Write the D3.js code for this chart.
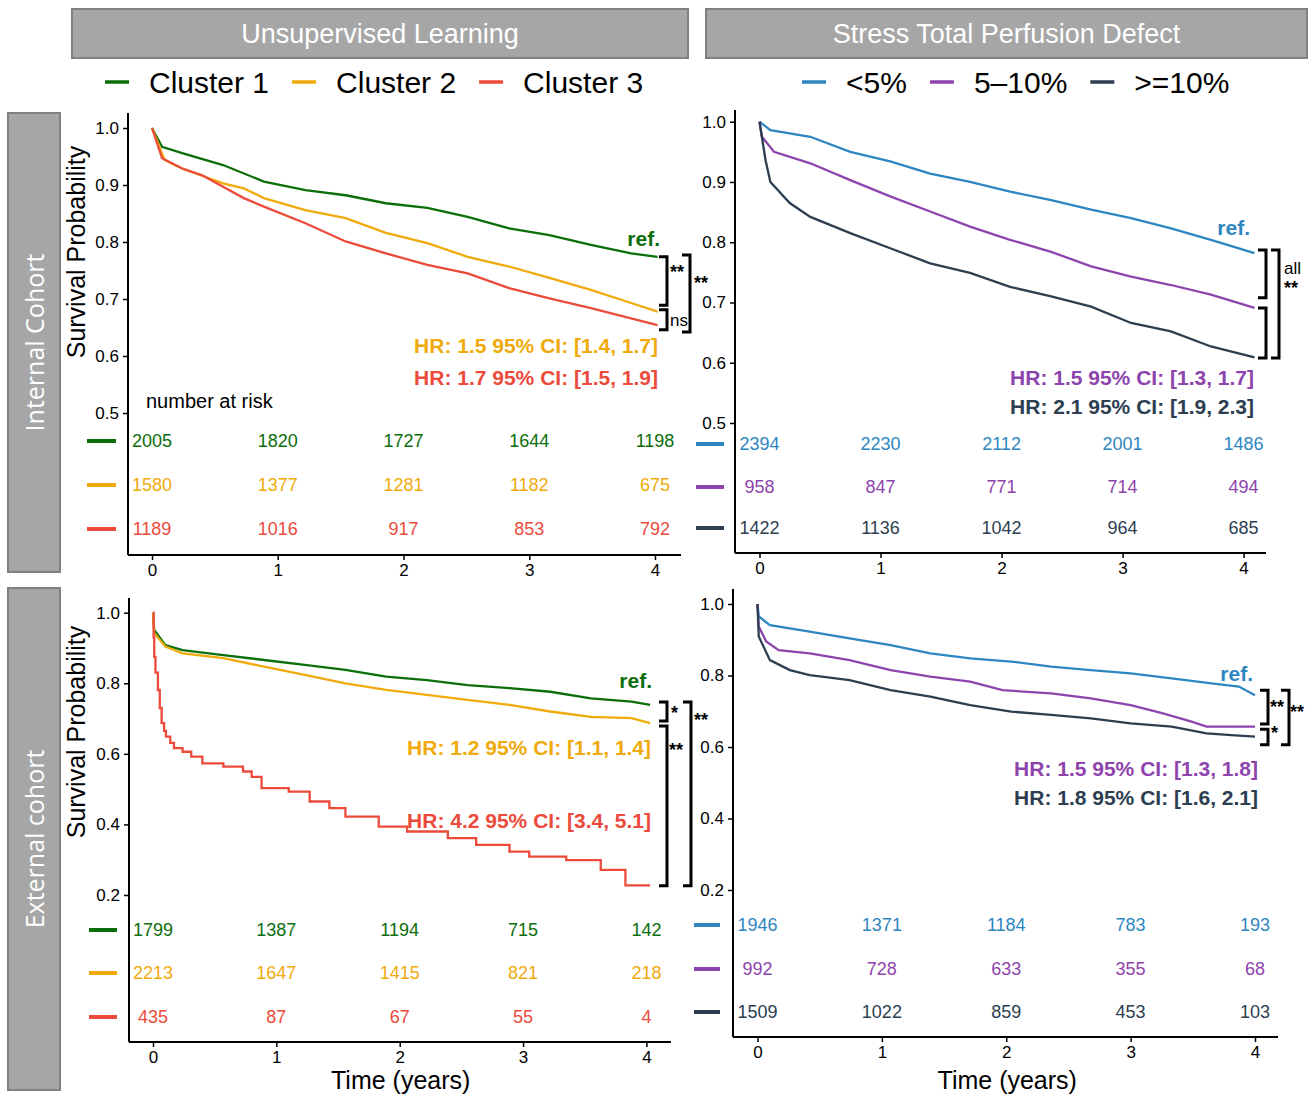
<!DOCTYPE html>
<html>
<head>
<meta charset="utf-8">
<script src="https://cdn.jsdelivr.net/npm/d3@7"></script>
<style>
body { margin: 0; background: #fff; }
text { font-family: "Liberation Sans", Arial, sans-serif; }
</style>
</head>
<body>
<script>
// colours
var clusterCols = ["#0b6e0b", "#f0aa0c", "#ec4b3c"];
var tpdCols = ["#2e86c1", "#8e44ad", "#2c3e50"];
var clusterNames = ["Cluster 1", "Cluster 2", "Cluster 3"];
var tpdNames = ["<5%", "5\u201310%", ">=10%"];

// survival curves, [years, probability]
var intC1 = [[0,1],[0.08,0.967],[0.24,0.956],[0.565,0.935],[0.89,0.906],[1.22,0.891],[1.54,0.882],[1.86,0.868],[2.19,0.86],[2.51,0.844],[2.84,0.824],[3.16,0.812],[3.49,0.795],[3.81,0.78],[4.02,0.774]];
var intC2 = [[0,1],[0.1,0.944],[0.24,0.929],[0.565,0.903],[0.73,0.894],[0.89,0.877],[1.22,0.856],[1.54,0.842],[1.86,0.816],[2.19,0.798],[2.51,0.774],[2.84,0.757],[3.16,0.737],[3.49,0.716],[3.81,0.693],[4.02,0.678]];
var intC3 = [[0,1],[0.08,0.947],[0.24,0.929],[0.4,0.917],[0.565,0.897],[0.73,0.877],[0.89,0.862],[1.22,0.833],[1.54,0.801],[1.86,0.78],[2.19,0.76],[2.51,0.745],[2.84,0.719],[3.16,0.701],[3.49,0.684],[3.81,0.666],[4.02,0.654]];

var intT1 = [[0,1],[0.09,0.986],[0.42,0.975],[0.75,0.95],[1.08,0.934],[1.41,0.914],[1.74,0.9],[2.07,0.884],[2.41,0.87],[2.74,0.854],[3.07,0.84],[3.4,0.823],[3.73,0.804],[4.09,0.782]];
var intT2 = [[0,1],[0.02,0.975],[0.12,0.95],[0.42,0.931],[0.75,0.903],[1.08,0.876],[1.41,0.851],[1.74,0.826],[2.07,0.804],[2.41,0.784],[2.74,0.76],[3.07,0.743],[3.4,0.729],[3.73,0.713],[4.09,0.691]];
var intT3 = [[0,1],[0.05,0.936],[0.09,0.9],[0.25,0.865],[0.42,0.842],[0.75,0.815],[1.08,0.79],[1.41,0.765],[1.74,0.749],[2.07,0.726],[2.41,0.71],[2.74,0.693],[3.07,0.666],[3.4,0.652],[3.73,0.627],[4.09,0.609]];

var extC1 = [[0,1],[0.01,0.951],[0.1,0.908],[0.24,0.894],[0.57,0.88],[0.9,0.866],[1.23,0.852],[1.56,0.838],[1.89,0.819],[2.22,0.809],[2.55,0.795],[2.89,0.786],[3.22,0.776],[3.55,0.757],[3.88,0.748],[4.03,0.739]];
var extC2 = [[0,1],[0.01,0.942],[0.1,0.904],[0.24,0.885],[0.57,0.871],[0.9,0.847],[1.23,0.824],[1.56,0.8],[1.89,0.781],[2.22,0.767],[2.55,0.753],[2.89,0.739],[3.22,0.72],[3.55,0.705],[3.88,0.701],[4.03,0.687]];
var extC3 = [[0,1],[0.005,0.93],[0.01,0.875],[0.02,0.83],[0.04,0.781],[0.055,0.73],[0.07,0.687],[0.09,0.665],[0.105,0.649],[0.14,0.631],[0.17,0.616],[0.24,0.606],[0.31,0.592],[0.4,0.573],[0.57,0.564],[0.73,0.55],[0.8,0.535],[0.88,0.503],[1.1,0.493],[1.27,0.465],[1.43,0.446],[1.56,0.422],[1.83,0.394],[2.06,0.38],[2.39,0.361],[2.62,0.342],[2.89,0.323],[3.05,0.309],[3.35,0.299],[3.63,0.271],[3.83,0.227],[4.03,0.227]];

var extT1 = [[0,1],[0.01,0.965],[0.1,0.941],[0.42,0.923],[0.74,0.904],[1.07,0.885],[1.39,0.862],[1.71,0.848],[2.04,0.839],[2.36,0.825],[2.68,0.815],[3,0.806],[3.33,0.792],[3.65,0.778],[3.87,0.769],[4,0.745]];
var extT2 = [[0,1],[0.01,0.937],[0.07,0.895],[0.17,0.871],[0.42,0.862],[0.74,0.843],[1.07,0.815],[1.39,0.797],[1.71,0.783],[1.97,0.759],[2.36,0.75],[2.68,0.736],[3,0.717],[3.26,0.694],[3.49,0.671],[3.61,0.657],[4,0.657]];
var extT3 = [[0,1],[0.01,0.909],[0.1,0.843],[0.26,0.815],[0.42,0.801],[0.74,0.787],[1.07,0.759],[1.39,0.741],[1.71,0.717],[2.04,0.699],[2.36,0.69],[2.68,0.68],[3,0.666],[3.33,0.657],[3.61,0.638],[3.81,0.633],[4,0.629]];

// number at risk at years 0..4
var riskYears = [0, 1, 2, 3, 4];
var intClusterRisk = [[2005,1820,1727,1644,1198],[1580,1377,1281,1182,675],[1189,1016,917,853,792]];
var intTpdRisk = [[2394,2230,2112,2001,1486],[958,847,771,714,494],[1422,1136,1042,964,685]];
var extClusterRisk = [[1799,1387,1194,715,142],[2213,1647,1415,821,218],[435,87,67,55,4]];
var extTpdRisk = [[1946,1371,1184,783,193],[992,728,633,355,68],[1509,1022,859,453,103]];

var hrIntCluster = ["HR: 1.5 95% CI: [1.4, 1.7]", "HR: 1.7 95% CI: [1.5, 1.9]"];
var hrIntTpd = ["HR: 1.5 95% CI: [1.3, 1.7]", "HR: 2.1 95% CI: [1.9, 2.3]"];
var hrExtCluster = ["HR: 1.2 95% CI: [1.1, 1.4]", "HR: 4.2 95% CI: [3.4, 5.1]"];
var hrExtTpd = ["HR: 1.5 95% CI: [1.3, 1.8]", "HR: 1.8 95% CI: [1.6, 2.1]"];

var ticksInt = [0.5, 0.6, 0.7, 0.8, 0.9, 1.0];
var ticksExt = [0.2, 0.4, 0.6, 0.8, 1.0];

var svg = d3.select("body").append("svg")
    .attr("width", 1313)
    .attr("height", 1094);

// facet header strips
function strip(x, y, w, h, label, vertical) {
    svg.append("rect")
        .attr("x", x).attr("y", y).attr("width", w).attr("height", h)
        .attr("fill", "#a6a6a6").attr("stroke", "#808080").attr("stroke-width", 2);
    var t = svg.append("text")
        .attr("text-anchor", "middle")
        .attr("dominant-baseline", "central")
        .attr("fill", "white")
        .text(label);
    if (vertical) {
        t.attr("transform", "translate(" + (x + w / 2) + "," + (y + h / 2) + ") rotate(-90)")
         .style("font-family", "'Open Sans', sans-serif").attr("font-size", "25px");
    } else {
        t.attr("x", x + w / 2).attr("y", y + h / 2).attr("font-size", "27px");
    }
}
strip(72, 9, 616, 49, "Unsupervised Learning", false);
strip(706, 9, 601, 49, "Stress Total Perfusion Defect", false);
strip(8, 113, 52, 459, "Internal Cohort", true);
strip(8, 588, 52, 502, "External cohort", true);

// top legends
function legend(x0, y, names, cols) {
    var x = x0;
    names.forEach(function(n, i) {
        svg.append("line")
            .attr("x1", x).attr("x2", x + 24).attr("y1", y).attr("y2", y)
            .attr("stroke", cols[i]).attr("stroke-width", 3.5);
        var t = svg.append("text")
            .attr("x", x + 44).attr("y", y)
            .attr("dominant-baseline", "central")
            .attr("font-size", "30px")
            .text(n);
        x = x + 44 + t.node().getComputedTextLength() + 23;
    });
}
legend(105, 82, clusterNames, clusterCols);
legend(802, 82, tpdNames, tpdCols);

var panels = [
    { series: [intC1, intC2, intC3], cols: clusterCols, risk: intClusterRisk, hr: hrIntCluster,
      xr: [152, 655], yd: [0.5, 1], yr: [413, 128], ticks: ticksInt, ax: 128, top: 113, bottom: 555, right: 681,
      rows: [441, 485, 529], sw: [87, 116], hrRight: 658, hrY: [345, 377], ref: [660, 238],
      ylab: 252, xlab: false, nrisk: true, stepLast: false,
      brackets: [
        { a: 0.774, b: 0.689, x: 667, lab: "**", lx: 670, ly: 272 },
        { a: 0.681, b: 0.646, x: 667, lab: "ns", lx: 670, ly: 320 },
        { a: 0.777, b: 0.642, x: 690, lab: "**", lx: 694, ly: 283 } ] },
    { series: [intT1, intT2, intT3], cols: tpdCols, risk: intTpdRisk, hr: hrIntTpd,
      xr: [759.5, 1243.6], yd: [0.5, 1], yr: [423, 121.7], ticks: ticksInt, ax: 735, top: 110, bottom: 553, right: 1266,
      rows: [444, 487, 528], sw: [696, 724], hrRight: 1254, hrY: [377, 406], ref: [1250, 227],
      ylab: 0, xlab: false, nrisk: false, stepLast: false,
      brackets: [
        { a: 0.787, b: 0.708, x: 1266, lab: "", lx: 0, ly: 0 },
        { a: 0.691, b: 0.608, x: 1266, lab: "", lx: 0, ly: 0 },
        { a: 0.787, b: 0.608, x: 1279, lab: "all", lx: 1284, ly: 268 },
        { a: 0.787, b: 0.608, x: 1279, lab: "**", lx: 1284, ly: 288, noLine: true } ] },
    { series: [extC1, extC2, extC3], cols: clusterCols, risk: extClusterRisk, hr: hrExtCluster,
      xr: [153, 646.4], yd: [0.2, 1], yr: [895, 612.7], ticks: ticksExt, ax: 129, top: 598, bottom: 1042, right: 671,
      rows: [930, 973, 1017], sw: [89, 117], hrRight: 651, hrY: [747, 820], ref: [652, 680],
      ylab: 732, xlab: true, nrisk: false, stepLast: true,
      brackets: [
        { a: 0.747, b: 0.693, x: 667, lab: "*", lx: 671, ly: 713 },
        { a: 0.679, b: 0.226, x: 667, lab: "**", lx: 669, ly: 750 },
        { a: 0.747, b: 0.226, x: 691, lab: "**", lx: 694, ly: 720 } ] },
    { series: [extT1, extT2, extT3], cols: tpdCols, risk: extTpdRisk, hr: hrExtTpd,
      xr: [757.5, 1255], yd: [0.2, 1], yr: [890, 604], ticks: ticksExt, ax: 733, top: 589, bottom: 1037, right: 1278,
      rows: [925, 969, 1012], sw: [694, 720], hrRight: 1258, hrY: [768, 797], ref: [1253, 673],
      ylab: 0, xlab: true, nrisk: false, stepLast: false,
      brackets: [
        { a: 0.759, b: 0.664, x: 1268, lab: "**", lx: 1270, ly: 707 },
        { a: 0.650, b: 0.606, x: 1268, lab: "*", lx: 1271, ly: 733 },
        { a: 0.759, b: 0.606, x: 1289, lab: "**", lx: 1290, ly: 712 } ] }
];

panels.forEach(function(p) {
    var x = d3.scaleLinear().domain([0, 4]).range(p.xr);
    var y = d3.scaleLinear().domain(p.yd).range(p.yr);
    var g = svg.append("g");

    // y axis
    var yAxis = g.append("g")
        .attr("transform", "translate(" + p.ax + ",0)")
        .call(d3.axisLeft(y).tickValues(p.ticks).tickFormat(d3.format(".1f")).tickSize(5).tickPadding(4));
    yAxis.select(".domain").remove();
    g.append("line")
        .attr("x1", p.ax).attr("x2", p.ax).attr("y1", p.top).attr("y2", p.bottom)
        .attr("stroke", "black").attr("stroke-width", 2);

    // x axis
    var xAxis = g.append("g")
        .attr("transform", "translate(0," + p.bottom + ")")
        .call(d3.axisBottom(x).tickValues(riskYears).tickFormat(d3.format("d")).tickSize(5).tickPadding(4));
    xAxis.select(".domain").remove();
    g.append("line")
        .attr("x1", p.ax).attr("x2", p.right).attr("y1", p.bottom).attr("y2", p.bottom)
        .attr("stroke", "black").attr("stroke-width", 2);

    g.selectAll(".tick line").attr("stroke", "black").attr("stroke-width", 1.5);
    g.selectAll(".tick text").attr("font-size", "17px").attr("fill", "black")
        .style("font-family", "'Liberation Sans', Arial, sans-serif");

    // curves
    p.series.forEach(function(s, i) {
        var line = d3.line()
            .x(function(d) { return x(d[0]); })
            .y(function(d) { return y(d[1]); })
            .curve(p.stepLast && i === 2 ? d3.curveStepAfter : d3.curveLinear);
        g.append("path")
            .datum(s)
            .attr("d", line)
            .attr("fill", "none")
            .attr("stroke", p.cols[i])
            .attr("stroke-width", 2.3);
    });

    // number at risk table
    p.risk.forEach(function(row, i) {
        g.append("line")
            .attr("x1", p.sw[0]).attr("x2", p.sw[1]).attr("y1", p.rows[i]).attr("y2", p.rows[i])
            .attr("stroke", p.cols[i]).attr("stroke-width", 4);
        g.selectAll(null)
            .data(row)
            .enter()
            .append("text")
            .attr("x", function(d, j) { return x(riskYears[j]); })
            .attr("y", p.rows[i])
            .attr("text-anchor", "middle")
            .attr("dominant-baseline", "central")
            .attr("font-size", "18px")
            .attr("fill", p.cols[i])
            .text(function(d) { return d; });
    });
    if (p.nrisk) {
        g.append("text")
            .attr("x", 146).attr("y", 401)
            .attr("dominant-baseline", "central")
            .attr("font-size", "20px")
            .text("number at risk");
    }

    // HR annotations
    p.hr.forEach(function(h, i) {
        g.append("text")
            .attr("x", p.hrRight).attr("y", p.hrY[i])
            .attr("text-anchor", "end")
            .attr("dominant-baseline", "central")
            .attr("font-size", "21px")
            .attr("font-weight", "bold")
            .attr("fill", p.cols[i + 1])
            .text(h);
    });
    g.append("text")
        .attr("x", p.ref[0]).attr("y", p.ref[1])
        .attr("text-anchor", "end")
        .attr("dominant-baseline", "central")
        .attr("font-size", "21px")
        .attr("font-weight", "bold")
        .attr("fill", p.cols[0])
        .text("ref.");

    // significance brackets
    p.brackets.forEach(function(b) {
        if (!b.noLine) {
            g.append("path")
                .attr("d", "M" + (b.x - 8) + "," + y(b.a) + "H" + b.x + "V" + y(b.b) + "H" + (b.x - 8))
                .attr("fill", "none")
                .attr("stroke", "black")
                .attr("stroke-width", 3);
        }
        if (b.lab) {
            g.append("text")
                .attr("x", b.lx).attr("y", b.ly)
                .attr("dominant-baseline", "central")
                .attr("font-size", b.lab.indexOf("*") >= 0 ? "18px" : "17px")
                .attr("font-weight", b.lab.indexOf("*") >= 0 ? "bold" : "normal")
                .text(b.lab);
        }
    });

    // axis titles
    if (p.ylab) {
        g.append("text")
            .attr("transform", "translate(76," + p.ylab + ") rotate(-90)")
            .attr("text-anchor", "middle")
            .attr("dominant-baseline", "central")
            .attr("font-size", "25px")
            .text("Survival Probability");
    }
    if (p.xlab) {
        g.append("text")
            .attr("x", (x(0) + x(4)) / 2 + 1).attr("y", 1080)
            .attr("text-anchor", "middle")
            .attr("dominant-baseline", "central")
            .attr("font-size", "25px")
            .text("Time (years)");
    }
});
</script>
</body>
</html>
